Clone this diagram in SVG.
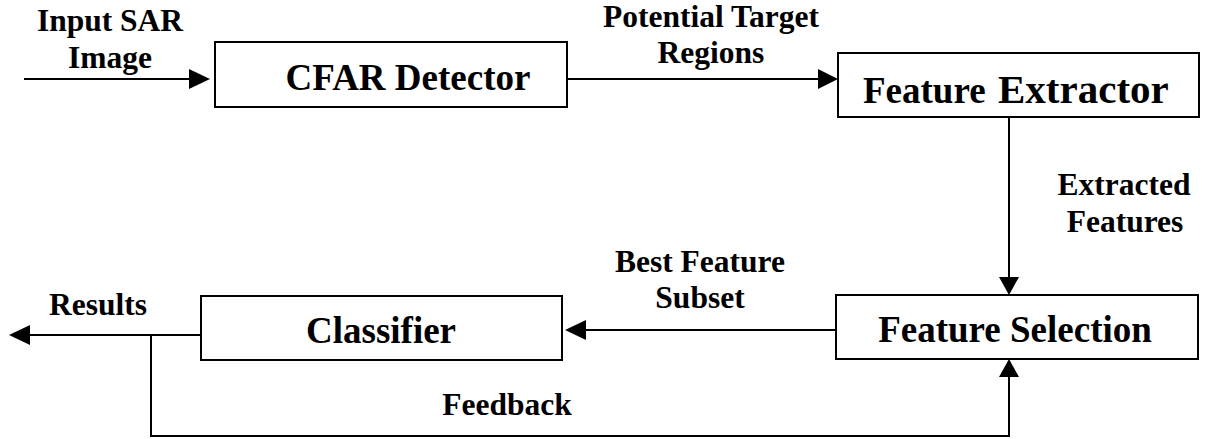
<svg xmlns="http://www.w3.org/2000/svg" width="1207" height="439" viewBox="0 0 1207 439">
  <style>
    .box { fill: #ffffff; stroke: #000000; stroke-width: 2; }
    .wire { fill: none; stroke: #000000; stroke-width: 2; }
    .head { fill: #000000; stroke: none; }
  </style>
  <rect width="1207" height="439" fill="#ffffff"/>

  <!-- connectors -->
  <g id="connectors">
    <!-- input image into the detector -->
    <line class="wire" x1="24" y1="79" x2="192" y2="79"/>
    <polygon class="head" points="210,79 189,69 189,89"/>
    <!-- detector to feature extractor -->
    <line class="wire" x1="567" y1="79" x2="820" y2="79"/>
    <polygon class="head" points="838,79 818,69 818,89"/>
    <!-- extractor down to selection -->
    <line class="wire" x1="1009" y1="117" x2="1009" y2="280"/>
    <polygon class="head" points="1009,295 999,277 1019,277"/>
    <!-- selection to classifier -->
    <line class="wire" x1="836" y1="330" x2="584" y2="330"/>
    <polygon class="head" points="565,330 586,320 586,340"/>
    <!-- classifier output -->
    <line class="wire" x1="201" y1="335" x2="27" y2="335"/>
    <polygon class="head" points="9,335 30,325 30,345"/>
    <!-- feedback loop -->
    <polyline class="wire" points="151,335 151,436 1009,436 1009,375"/>
    <polygon class="head" points="1009,359 999,377 1019,377"/>
  </g>

  <!-- connector labels -->
  <g id="labels" font-family="Liberation Serif" font-weight="bold" font-size="31.5" fill="#000000" text-anchor="middle">
    <text x="110" y="31">Input SAR</text>
    <text x="110" y="68">Image</text>
    <text x="711" y="27">Potential Target</text>
    <text x="711" y="63">Regions</text>
    <text x="1124" y="195">Extracted</text>
    <text x="1125" y="232">Features</text>
    <text x="700" y="272">Best Feature</text>
    <text x="700" y="308">Subset</text>
    <text x="98" y="315">Results</text>
    <text x="507" y="415">Feedback</text>
  </g>

  <!-- processing blocks -->
  <g id="cfar-detector">
    <rect class="box" x="215" y="42" width="352" height="65"/>
    <text x="408" y="90" font-family="Liberation Serif" font-weight="bold" font-size="37" text-anchor="middle">CFAR Detector</text>
  </g>
  <g id="feature-extractor">
    <rect class="box" x="838" y="53" width="361" height="64"/>
    <text x="863" y="103" font-family="Liberation Serif" font-weight="bold" font-size="37">Feature<tspan x="998" font-size="41">Extractor</tspan></text>
  </g>
  <g id="feature-selection">
    <rect class="box" x="836" y="295" width="362" height="64"/>
    <text x="1015" y="342" font-family="Liberation Serif" font-weight="bold" font-size="37" text-anchor="middle">Feature Selection</text>
  </g>
  <g id="classifier">
    <rect class="box" x="201" y="296" width="361" height="64"/>
    <text x="381" y="343" font-family="Liberation Serif" font-weight="bold" font-size="37" text-anchor="middle">Classifier</text>
  </g>
</svg>
